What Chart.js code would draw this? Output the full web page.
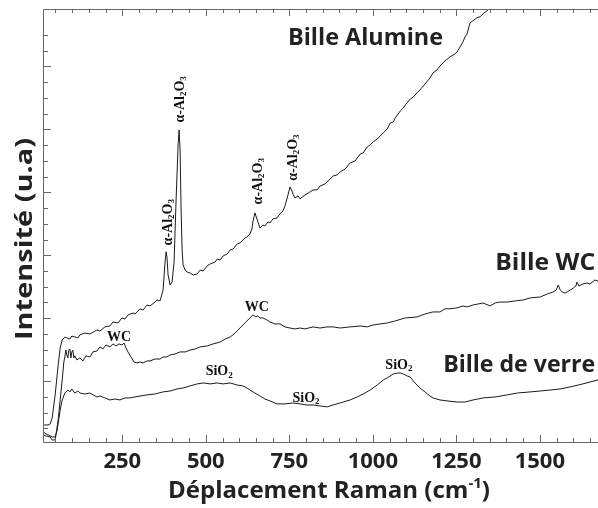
<!DOCTYPE html>
<html>
<head>
<meta charset="utf-8">
<script src="https://cdn.jsdelivr.net/npm/chart.js@4.4.0/dist/chart.umd.min.js"></script>
<style>
  html, body { margin: 0; padding: 0; background: #fff; }
  canvas { display: block; }
</style>
</head>
<body>
<canvas id="ramanChart" width="598" height="508"></canvas>
<script>
// Raman shift (cm-1) and intensity (u.a)
const alumineShift = [
  16, 28, 34, 40, 49, 58, 64, 70, 78, 84,
  93, 99, 108, 117, 123, 138, 153, 174, 183, 198,
  213, 222, 237, 249, 258, 267, 282, 288, 303, 312,
  324, 333, 348, 354, 363, 372, 378, 381, 384, 387,
  393, 399, 405, 411, 417, 420, 423, 426, 429, 432,
  438, 444, 453, 462, 474, 483, 492, 504, 513, 528,
  534, 543, 552, 564, 573, 582, 594, 602, 617, 623,
  632, 638, 641, 647, 653, 656, 662, 671, 677, 686,
  692, 701, 713, 722, 731, 737, 746, 752, 758, 761,
  767, 776, 782, 797, 812, 821, 833, 842, 857, 872,
  881, 893, 902, 917, 932, 947, 962, 971, 983, 992,
  1001, 1013, 1022, 1031, 1043, 1052, 1061, 1067, 1082, 1091,
  1097, 1112, 1121, 1132, 1141, 1156, 1171, 1180, 1192, 1201,
  1216, 1231, 1246, 1252, 1261, 1270, 1276, 1282, 1291, 1300,
  1312, 1321, 1330, 1342, 1351, 1366
];
const alumineIntensity = [
  12.2, 12.2, 12.8, 16.7, 31.3, 50.3, 61.1, 66.2, 68.1, 67.5,
  66.8, 68.7, 68.1, 67.5, 69.4, 70.6, 70.0, 72.5, 71.9, 74.5,
  75.1, 77.6, 77.0, 80.2, 79.5, 82.1, 83.3, 82.7, 85.9, 85.2,
  88.4, 87.8, 90.3, 91.6, 91.0, 97.9, 115.7, 122.2, 118.3, 107.5,
  101.1, 103.0, 115.7, 155.1, 190.0, 199.6, 186.8, 148.8, 123.4, 113.8,
  110.6, 109.4, 108.7, 107.5, 108.1, 110.6, 110.0, 113.2, 114.5, 115.7,
  117.6, 117.0, 119.6, 120.8, 123.4, 124.0, 127.2, 127.8, 131.0, 131.6,
  133.5, 136.7, 141.2, 146.9, 143.1, 141.2, 137.3, 139.2, 138.6, 141.2,
  140.5, 143.1, 143.7, 146.3, 148.2, 151.3, 158.3, 163.4, 160.8, 158.9,
  156.4, 157.7, 155.8, 158.3, 160.2, 161.5, 161.5, 164.0, 165.3, 168.4,
  170.4, 171.0, 172.9, 174.8, 178.6, 179.9, 184.3, 185.0, 188.8, 190.1,
  192.0, 193.8, 195.7, 197.7, 200.2, 204.0, 204.6, 207.2, 211.6, 213.5,
  215.4, 219.2, 220.5, 223.1, 225.0, 228.8, 232.6, 235.8, 237.7, 240.2,
  243.4, 246.0, 247.9, 249.1, 252.3, 255.6, 258.7, 260.6, 267.7, 269.0,
  270.9, 271.5, 273.4, 275.3, 277.1, 280.9
];

const wcShift = [
  13, 22, 34, 40, 49, 58, 64, 70, 75, 78,
  81, 84, 87, 90, 93, 96, 99, 102, 105, 108,
  114, 123, 132, 141, 153, 162, 174, 183, 192, 201,
  213, 222, 231, 240, 249, 255, 261, 267, 276, 285,
  294, 303, 312, 324, 333, 348, 363, 372, 384, 393,
  408, 423, 438, 453, 468, 483, 504, 522, 543, 558,
  573, 588, 602, 617, 632, 641, 650, 656, 662, 671,
  683, 692, 707, 722, 737, 752, 767, 782, 797, 821,
  842, 863, 881, 902, 932, 962, 983, 1001, 1022, 1043,
  1067, 1097, 1132, 1156, 1180, 1201, 1216, 1231, 1252, 1270,
  1282, 1300, 1330, 1351, 1366, 1381, 1402, 1426, 1450, 1471,
  1501, 1522, 1540, 1549, 1555, 1561, 1567, 1576, 1591, 1600,
  1608, 1611, 1617, 1629, 1641, 1650, 1665, 1674
];
const wcIntensity = [
  5.9, 5.2, 4.6, 2.7, 2.7, 15.4, 28.1, 40.8, 52.2, 55.4,
  59.8, 56.7, 54.8, 59.8, 60.5, 54.8, 58.6, 59.8, 54.8, 56.1,
  53.5, 54.8, 52.9, 56.1, 55.4, 58.6, 59.2, 61.8, 60.5, 63.0,
  61.8, 63.7, 62.4, 63.7, 63.0, 64.3, 61.1, 58.6, 55.4, 52.2,
  51.6, 52.2, 51.6, 52.9, 52.9, 54.1, 54.1, 55.4, 55.4, 56.7,
  57.3, 58.6, 58.6, 59.8, 60.5, 61.8, 62.4, 63.7, 64.9, 66.8,
  68.1, 70.6, 73.8, 77.0, 80.2, 82.1, 80.8, 81.5, 80.2, 80.2,
  78.9, 77.6, 76.4, 76.4, 74.5, 73.8, 73.2, 73.8, 73.2, 74.5,
  73.8, 74.5, 74.5, 73.8, 74.5, 75.1, 74.5, 75.7, 76.4, 77.0,
  78.3, 80.2, 80.8, 82.7, 84.0, 84.0, 86.0, 86.0, 86.6, 87.8,
  87.2, 88.4, 89.7, 87.8, 89.7, 90.3, 90.3, 91.0, 91.6, 92.9,
  93.5, 95.4, 96.7, 97.9, 101.1, 97.9, 96.7, 96.0, 97.9, 99.2,
  100.5, 103.0, 100.5, 101.8, 102.4, 101.8, 104.3, 103.6
];

const verreShift = [
  13, 22, 28, 40, 49, 55, 64, 70, 78, 87,
  93, 99, 108, 117, 123, 138, 153, 174, 183, 198,
  213, 228, 243, 258, 273, 288, 303, 324, 348, 372,
  393, 414, 432, 453, 474, 492, 513, 534, 552, 573,
  594, 611, 623, 632, 647, 662, 677, 692, 713, 737,
  761, 782, 803, 821, 842, 863, 881, 902, 932, 953,
  971, 992, 1013, 1031, 1043, 1061, 1073, 1082, 1091, 1103,
  1112, 1121, 1132, 1141, 1156, 1171, 1180, 1201, 1222, 1252,
  1276, 1300, 1330, 1366, 1402, 1432, 1471, 1501, 1531, 1561,
  1591, 1629, 1650, 1674
];
const verreIntensity = [
  7.8, 6.5, 5.9, 4.6, 4.6, 9.0, 21.7, 28.1, 32.5, 34.4,
  33.2, 35.1, 32.5, 33.8, 32.5, 31.9, 32.5, 30.0, 30.6, 29.4,
  28.1, 28.7, 28.1, 29.4, 29.4, 30.0, 30.6, 31.3, 31.9, 33.2,
  33.8, 35.1, 35.7, 37.0, 38.3, 38.9, 38.3, 38.9, 38.3, 38.9,
  37.6, 37.0, 35.7, 34.4, 32.5, 30.6, 28.7, 27.5, 25.6, 25.6,
  26.2, 25.6, 24.9, 24.9, 24.3, 23.7, 24.9, 26.2, 28.1, 30.0,
  31.9, 34.4, 37.6, 40.8, 42.1, 44.6, 45.2, 45.2, 44.6, 43.3,
  42.7, 40.2, 37.6, 35.7, 33.2, 30.6, 29.4, 28.1, 27.5, 26.8,
  26.8, 28.1, 29.4, 30.0, 31.3, 32.5, 33.2, 33.8, 34.4, 35.1,
  36.4, 38.3, 39.5, 40.8
];

const xTickLabels = [250, 500, 750, 1000, 1250, 1500];

// peak labels (digits are drawn as subscripts)
const peakLabels = [
  { text: "α-Al2O3", x: 387, y: 141, vertical: true },
  { text: "α-Al2O3", x: 423, y: 219, vertical: true },
  { text: "α-Al2O3", x: 656, y: 167, vertical: true },
  { text: "α-Al2O3", x: 761, y: 182, vertical: true },
  { text: "WC", x: 240, y: 68 },
  { text: "WC", x: 653, y: 87 },
  { text: "SiO2", x: 540, y: 46 },
  { text: "SiO2", x: 800, y: 29 },
  { text: "SiO2", x: 1078, y: 50 }
];

// sample names, anchored on their baseline
const sampleLabels = [
  { text: "Bille Alumine", x: 978, y: 253.5, width: 155 },
  { text: "Bille WC", x: 1516, y: 110.6, width: 100 },
  { text: "Bille de verre", x: 1438, y: 45.9, width: 152 }
];

const xTitle = [["Déplacement Raman (cm", 0], ["-1", -1], [")", 0]];
const yTitle = [["Intensité (u.a)", 0]];

const toPoints = (xs, ys) => xs.map((v, i) => ({ x: v, y: ys[i] }));

// draw a run of text parts; shift 1 = subscript, -1 = superscript
function drawParts(ctx, parts, x, y, size, family, width, angle) {
  const big = `bold ${size}px ${family}`;
  const small = `bold ${Math.round(size * 0.62)}px ${family}`;
  let natural = 0;
  parts.forEach(([t, shift]) => {
    ctx.font = shift ? small : big;
    natural += ctx.measureText(t).width;
  });
  const k = width ? width / natural : 1;
  ctx.save();
  ctx.translate(x, y);
  if (angle) ctx.rotate(angle);
  ctx.scale(k, 1);
  ctx.textAlign = "left";
  let pos = -natural / 2;
  parts.forEach(([t, shift]) => {
    ctx.font = shift ? small : big;
    ctx.fillText(t, pos, shift > 0 ? size * 0.25 : shift * size * 0.4);
    pos += ctx.measureText(t).width;
  });
  ctx.restore();
}

const chemParts = (text) =>
  text.split(/(\d)/).filter(Boolean).map((s) => [s, /\d/.test(s) ? 1 : 0]);

const framePlugin = {
  id: "frame",
  afterDatasetsDraw(chart) {
    const { ctx, chartArea: a, scales: { x, y } } = chart;
    ctx.save();

    // frame: top, left and bottom (the right side is cut off)
    ctx.strokeStyle = "#666";
    ctx.lineWidth = 1;
    ctx.beginPath();
    ctx.moveTo(a.right, a.top + 0.5);
    ctx.lineTo(a.left + 0.5, a.top + 0.5);
    ctx.lineTo(a.left + 0.5, a.bottom + 0.5);
    ctx.lineTo(a.right, a.bottom + 0.5);

    // inward ticks
    for (let v = 50; v < x.max; v += 50) {
      const px = Math.round(x.getPixelForValue(v)) + 0.5;
      const len = v % 250 === 0 ? 7 : 4;
      ctx.moveTo(px, a.bottom);
      ctx.lineTo(px, a.bottom - len);
      ctx.moveTo(px, a.top);
      ctx.lineTo(px, a.top + len);
    }
    for (let v = 10; v < y.max - 10; v += 10) {
      const py = Math.round(y.getPixelForValue(v)) + 0.5;
      const len = v % 40 === 0 ? 8 : 5;
      ctx.moveTo(a.left, py);
      ctx.lineTo(a.left + len, py);
    }
    ctx.stroke();

    ctx.fillStyle = "#222";

    // tick labels
    ctx.textBaseline = "alphabetic";
    xTickLabels.forEach((v) => {
      drawParts(ctx, [[String(v), 0]], x.getPixelForValue(v), a.bottom + 26, 22, '"Open Sans"');
    });

    // axis titles
    drawParts(ctx, xTitle, 329, a.bottom + 56, 24, '"Open Sans"', 322);
    drawParts(ctx, yTitle, 32, 239, 24, '"Open Sans"', 202, -Math.PI / 2);

    // sample names
    sampleLabels.forEach((l) => {
      drawParts(ctx, [[l.text, 0]], x.getPixelForValue(l.x), y.getPixelForValue(l.y), 24, '"Open Sans"', l.width);
    });

    // peak assignments
    ctx.fillStyle = "#111";
    ctx.textBaseline = "middle";
    peakLabels.forEach((l) => {
      drawParts(ctx, chemParts(l.text), x.getPixelForValue(l.x), y.getPixelForValue(l.y),
        14, '"Liberation Serif"', 0, l.vertical ? -Math.PI / 2 : 0);
    });

    ctx.restore();
  }
};

const lineStyle = {
  borderColor: "#1a1a1a",
  borderWidth: 1,
  pointRadius: 0,
  tension: 0,
  fill: false
};

new Chart(document.getElementById("ramanChart"), {
  type: "line",
  data: {
    datasets: [
      { label: "Bille Alumine", data: toPoints(alumineShift, alumineIntensity), ...lineStyle },
      { label: "Bille WC", data: toPoints(wcShift, wcIntensity), ...lineStyle },
      { label: "Bille de verre", data: toPoints(verreShift, verreIntensity), ...lineStyle }
    ]
  },
  options: {
    responsive: false,
    devicePixelRatio: 1,
    animation: false,
    layout: { padding: { left: 43, top: 9, right: 0, bottom: 66 } },
    scales: {
      x: { type: "linear", min: 12.6, max: 1674, display: false },
      y: { type: "linear", min: 1.4, max: 276.4, display: false }
    },
    plugins: {
      legend: { display: false },
      tooltip: { enabled: false }
    }
  },
  plugins: [framePlugin]
});
</script>
</body>
</html>
